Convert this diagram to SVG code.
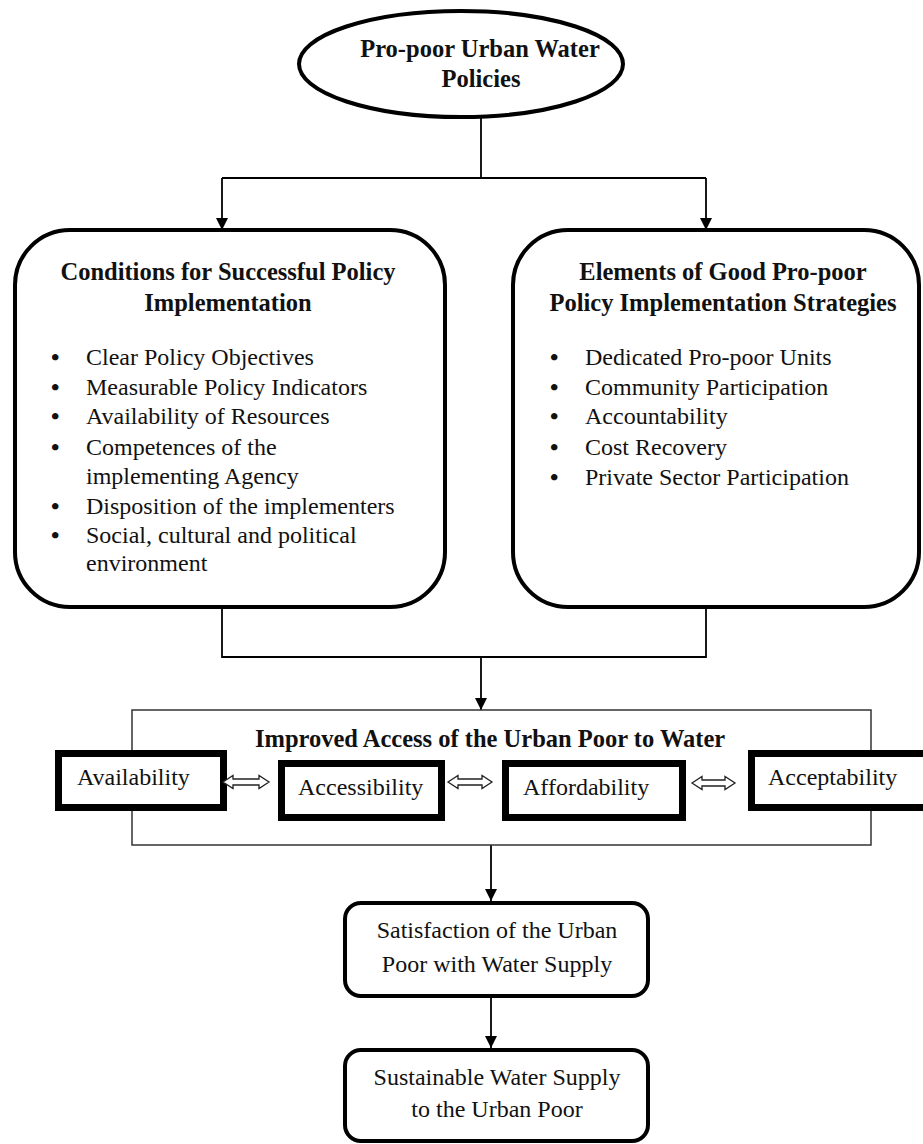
<svg xmlns="http://www.w3.org/2000/svg" width="923" height="1144" viewBox="0 0 923 1144">
<style>
text{font-family:"Liberation Serif","Times New Roman",serif;fill:#111;font-size:24px}
.b{font-weight:bold;font-size:24.5px}
.c{text-anchor:middle}
.d{font-weight:bold}
.n{fill:#fff;stroke:#000;stroke-width:4}
.k{fill:#fff;stroke:#000;stroke-width:7}
.ln{fill:none;stroke:#000;stroke-width:1.8}
.da{fill:#fff;stroke:#222;stroke-width:1.3;stroke-linejoin:miter}
</style>
<defs>
<marker id="ah" markerUnits="userSpaceOnUse" markerWidth="12" markerHeight="12" viewBox="0 0 12 12" refX="12" refY="6" orient="auto">
<path d="M0,0 L12,6 L0,12 Z" fill="#000"/>
</marker>
</defs>
<rect width="923" height="1144" fill="#fff"/>
<g id="connectors">
<path class="ln" d="M481,117 V178"/>
<path class="ln" d="M222,178 H706"/>
<path class="ln" d="M222,178 V230" marker-end="url(#ah)"/>
<path class="ln" d="M706,178 V230" marker-end="url(#ah)"/>
<path class="ln" d="M222,607 V657 H706 V607"/>
<path class="ln" d="M481,657 V710" marker-end="url(#ah)"/>
<path class="ln" d="M491,845 V901" marker-end="url(#ah)"/>
<path class="ln" d="M491,998 V1048" marker-end="url(#ah)"/>
</g>
<g id="policies">
<ellipse class="n" cx="461" cy="64" rx="162" ry="53"/>
<text class="b c" x="480" y="57">Pro-poor Urban Water</text>
<text class="b c" x="481" y="87">Policies</text>
</g>
<g id="conditions">
<rect class="n" x="15" y="230" width="430" height="377" rx="55"/>
<text class="b c" x="228" y="280">Conditions for Successful Policy</text>
<text class="b c" x="228" y="311">Implementation</text>
<g>
<text class="d" x="51" y="365">•</text><text x="86" y="365">Clear Policy Objectives</text>
<text class="d" x="51" y="395">•</text><text x="86" y="395"> Measurable Policy Indicators</text>
<text class="d" x="51" y="424">•</text><text x="86" y="424">Availability of Resources</text>
<text class="d" x="51" y="455">•</text><text x="86" y="455">Competences of the</text>
<text x="86" y="484">implementing Agency</text>
<text class="d" x="51" y="514">•</text><text x="86" y="514">Disposition of the implementers</text>
<text class="d" x="51" y="543">•</text><text x="86" y="543">Social, cultural and political</text>
<text x="86" y="571">environment</text>
</g>
</g>
<g id="elements">
<rect class="n" x="513" y="230" width="406" height="377" rx="55"/>
<text class="b c" x="723" y="280">Elements of Good Pro-poor</text>
<text class="b c" x="723" y="311">Policy Implementation Strategies</text>
<text class="d" x="550" y="365">•</text><text x="585" y="365">Dedicated Pro-poor Units</text>
<text class="d" x="550" y="395">•</text><text x="585" y="395">Community Participation</text>
<text class="d" x="550" y="424">•</text><text x="585" y="424">Accountability</text>
<text class="d" x="550" y="455">•</text><text x="585" y="455">Cost Recovery</text>
<text class="d" x="550" y="485">•</text><text x="585" y="485">Private Sector Participation</text>
</g>
<g id="access">
<rect x="132" y="710" width="739" height="135" fill="#fff" stroke="#333" stroke-width="1.5"/>
<text class="b" x="255" y="747">Improved Access of the Urban Poor to Water</text>
</g>
<g id="availability">
<rect class="k" x="58.5" y="753.5" width="165" height="54"/>
<text x="77" y="785">Availability</text>
</g>
<g id="accessibility">
<rect class="k" x="281.5" y="763.5" width="160" height="54"/>
<text x="298" y="795">Accessibility</text>
</g>
<g id="affordability">
<rect class="k" x="505.5" y="763.5" width="177" height="54"/>
<text x="523" y="795">Affordability</text>
</g>
<g id="acceptability">
<rect class="k" x="751.5" y="753.5" width="180" height="54"/>
<text x="768" y="785">Acceptability</text>
</g>
<g id="double-arrows">
<path class="da" d="M223,782 L233,775.5 V779 H259 V775.5 L269,782 L259,788.5 V785 H233 V788.5 Z"/>
<path class="da" d="M448,782 L458,775.5 V779 H482 V775.5 L492,782 L482,788.5 V785 H458 V788.5 Z"/>
<path class="da" d="M692,783 L702,776.5 V780 H725 V776.5 L735,783 L725,789.5 V786 H702 V789.5 Z"/>
</g>
<g id="satisfaction">
<rect class="n" x="345" y="903" width="303" height="93" rx="16"/>
<text class="c" x="497" y="938">Satisfaction of the Urban</text>
<text class="c" x="497" y="972">Poor with Water Supply</text>
</g>
<g id="sustainable">
<rect class="n" x="345" y="1050" width="303" height="91" rx="16"/>
<text class="c" x="497" y="1085">Sustainable Water Supply</text>
<text class="c" x="497" y="1117">to the Urban Poor</text>
</g>
</svg>
